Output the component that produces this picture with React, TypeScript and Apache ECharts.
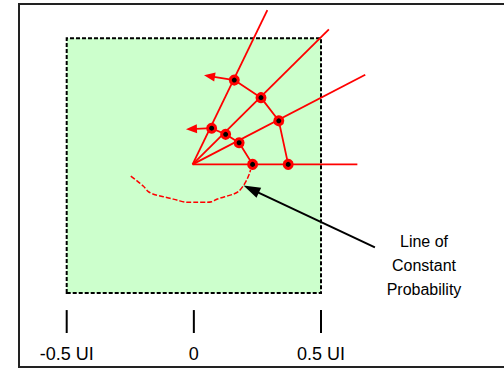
import React, { useEffect, useRef } from "react";
import * as echarts from "echarts";

// All values in unit intervals (UI); the shaded eye box spans -0.5..0.5 on both axes.
const tickValues = [-0.5, 0, 0.5];
const tickLabels = ["-0.5 UI", "0", "0.5 UI"];
const tickSpan = [-0.567, -0.657];
const boxCorners = [
  [-0.5, -0.5],
  [0.5, 0.5],
];
const origin = [-0.005, 0.005];
const rayEnds = [
  [0.289, 0.611],
  [0.531, 0.535],
  [0.674, 0.357],
  [0.643, 0.005],
];
const outerCurve = [
  [0.159, 0.336],
  [0.264, 0.267],
  [0.334, 0.176],
  [0.371, 0.005],
];
const innerCurve = [
  [0.07, 0.147],
  [0.125, 0.123],
  [0.178, 0.09],
  [0.231, 0.005],
];
// [fromX, fromY, tipX, tipY]
const redArrows = [
  [0.159, 0.336, 0.04, 0.355],
  [0.07, 0.147, -0.031, 0.143],
];
const constantProbCurve = [
  [-0.248, -0.041],
  [-0.225, -0.059],
  [-0.199, -0.08],
  [-0.179, -0.102],
  [-0.159, -0.112],
  [-0.12, -0.122],
  [-0.094, -0.128],
  [-0.067, -0.135],
  [-0.028, -0.144],
  [0.011, -0.144],
  [0.051, -0.144],
  [0.07, -0.142],
  [0.09, -0.132],
  [0.122, -0.122],
  [0.155, -0.112],
  [0.175, -0.102],
  [0.194, -0.08],
  [0.208, -0.056],
  [0.218, -0.033],
  [0.223, -0.017],
];
const annotationArrow = [[0.712, -0.321, 0.195, -0.078]];
const annotationText = ["Line of", "Constant", "Probability"];

const RED = "#ff0000";
const FONT = '"Liberation Sans", Arial, sans-serif';

function arrowRenderer(color: string, headLen: number, headWidth: number, lineWidth: number) {
  return (params: any, api: any) => {
    const p1 = api.coord([api.value(0), api.value(1)]);
    const p2 = api.coord([api.value(2), api.value(3)]);
    const dx = p2[0] - p1[0];
    const dy = p2[1] - p1[1];
    const len = Math.hypot(dx, dy) || 1;
    const ux = dx / len;
    const uy = dy / len;
    const bx = p2[0] - ux * headLen;
    const by = p2[1] - uy * headLen;
    const px = -uy * (headWidth / 2);
    const py = ux * (headWidth / 2);
    return {
      type: "group",
      children: [
        {
          type: "line",
          shape: { x1: p1[0], y1: p1[1], x2: bx + ux * 1, y2: by + uy * 1 },
          style: { stroke: color, lineWidth },
        },
        {
          type: "polygon",
          shape: {
            points: [
              [p2[0], p2[1]],
              [bx + px, by + py],
              [bx - px, by - py],
            ],
          },
          style: { fill: color },
        },
      ],
    };
  };
}

function segmentRenderer(color: string, lineWidth: number) {
  return (params: any, api: any) => {
    const p1 = api.coord([api.value(0), api.value(1)]);
    const p2 = api.coord([api.value(2), api.value(3)]);
    return {
      type: "line",
      shape: { x1: p1[0], y1: p1[1], x2: p2[0], y2: p2[1] },
      style: { stroke: color, lineWidth },
    };
  };
}

export default function App() {
  const ref = useRef<HTMLDivElement>(null);

  useEffect(() => {
    if (!ref.current) return;
    const chart = echarts.init(ref.current, undefined, { renderer: "svg" });

    const rayData = rayEnds.map((e) => [origin[0], origin[1], e[0], e[1]]);
    const tickData = tickValues.map((t) => [t, tickSpan[0], t, tickSpan[1]]);

    const option: any = {
      animation: false,
      backgroundColor: "#ffffff",
      grid: {
        left: 66.7,
        right: 183,
        top: 38.3,
        bottom: 75,
        containLabel: false,
        outerBoundsMode: "none",
      },
      xAxis: {
        type: "value",
        min: -0.5,
        max: 0.5,
        interval: 0.5,
        position: "bottom",
        offset: 17,
        axisLine: { show: false },
        splitLine: { show: false },
        axisTick: { show: false },
        axisLabel: {
          show: true,
          margin: 35,
          fontSize: 18,
          fontFamily: FONT,
          color: "#000",
          customValues: tickValues,
          formatter: (v: number) => {
            const i = tickValues.findIndex((t) => Math.abs(t - v) < 1e-9);
            return i >= 0 ? tickLabels[i] : "";
          },
        },
      },
      yAxis: {
        type: "value",
        min: -0.5,
        max: 0.5,
        show: false,
        splitLine: { show: false },
      },
      series: [
        {
          type: "line",
          name: "box",
          data: [],
          silent: true,
          markArea: {
            silent: true,
            itemStyle: {
              color: "#ccffcc",
              borderColor: "#000",
              borderWidth: 2,
              borderType: [4, 2],
            },
            data: [[{ coord: boxCorners[0] }, { coord: boxCorners[1] }]],
          },
        },
        {
          type: "custom",
          name: "ticks",
          data: tickData,
          clip: false,
          silent: true,
          renderItem: segmentRenderer("#000", 2),
          z: 3,
        },
        {
          type: "custom",
          name: "rays",
          data: rayData,
          clip: false,
          silent: true,
          renderItem: segmentRenderer(RED, 1.8),
          z: 3,
        },
        {
          type: "line",
          name: "outer",
          data: outerCurve,
          clip: false,
          symbol: "none",
          silent: true,
          lineStyle: { color: RED, width: 1.8 },
          z: 3,
        },
        {
          type: "line",
          name: "inner",
          data: innerCurve,
          clip: false,
          symbol: "none",
          silent: true,
          lineStyle: { color: RED, width: 1.8 },
          z: 3,
        },
        {
          type: "line",
          name: "constant",
          data: constantProbCurve,
          clip: false,
          symbol: "none",
          smooth: 0.3,
          silent: true,
          lineStyle: { color: RED, width: 1.5, type: [5, 2] },
          z: 3,
        },
        {
          type: "custom",
          name: "redArrows",
          data: redArrows,
          clip: false,
          silent: true,
          renderItem: arrowRenderer(RED, 11, 9, 1.8),
          z: 4,
        },
        {
          type: "scatter",
          name: "dots",
          data: [...outerCurve, ...innerCurve],
          clip: false,
          silent: true,
          symbol: "circle",
          symbolSize: 8,
          itemStyle: { color: "#000", borderColor: RED, borderWidth: 3, opacity: 1 },
          z: 5,
        },
        {
          type: "custom",
          name: "annotation",
          data: annotationArrow,
          clip: false,
          silent: true,
          renderItem: arrowRenderer("#000", 17, 11, 2),
          z: 6,
        },
      ],
      graphic: [
        {
          type: "rect",
          silent: true,
          shape: { x: 19, y: 4, width: 500, height: 363 },
          style: { fill: "none", stroke: "#222", lineWidth: 2 },
          z: 10,
        },
        {
          type: "text",
          silent: true,
          x: 424,
          y: 229,
          style: {
            text: annotationText.join("\n"),
            fontSize: 16,
            fontFamily: FONT,
            lineHeight: 24,
            fill: "#000",
            align: "center",
            verticalAlign: "top",
            textAlign: "center",
            textVerticalAlign: "top",
          },
          z: 10,
        },
      ],
    };

    chart.setOption(option);
    return () => chart.dispose();
  }, []);

  return (
    <div
      ref={ref}
      style={{ position: "absolute", left: 0, top: 0, width: 504, height: 368 }}
    />
  );
}
